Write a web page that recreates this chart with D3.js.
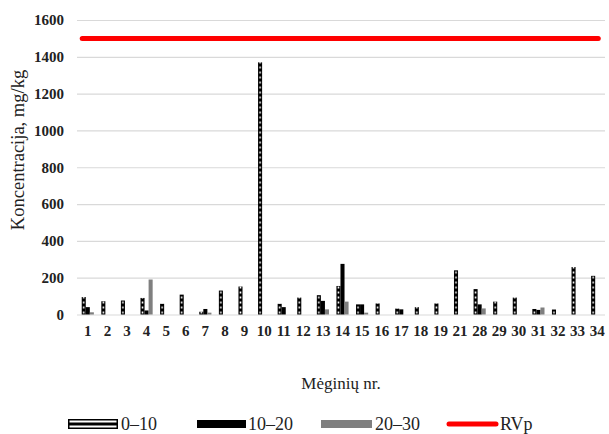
<!DOCTYPE html>
<html>
<head>
<meta charset="utf-8">
<script src="https://cdn.jsdelivr.net/npm/d3@7"></script>
<style>
  body { margin: 0; background: #fff; }
  svg text { font-family: "Liberation Serif", "Times New Roman", Times, "Tinos", "Nimbus Roman", "FreeSerif", "Noto Serif", "DejaVu Serif", serif; }
</style>
</head>
<body>
<div id="chart"></div>
<script>
// Mėginių numeriai (kategorijos)
const categories = ["1","2","3","4","5","6","7","8","9","10","11","12","13","14","15","16","17","18","19","21","28","29","30","31","32","33","34"];
const seriesNames = ["0–10", "10–20", "20–30"];
const depth0_10  = [95, 72, 76, 90, 58, 108, 15, 130, 152, 1370, 58, 92, 105, 155, 55, 60, 32, 40, 60, 240, 138, 70, 92, 30, 27, 258, 210];
const depth10_20 = [40, 0, 0, 22, 0, 0, 30, 0, 0, 0, 40, 0, 74, 275, 55, 0, 28, 0, 0, 0, 55, 0, 0, 25, 0, 0, 0];
const depth20_30 = [12, 0, 0, 190, 0, 0, 10, 0, 0, 0, 0, 0, 28, 70, 10, 0, 0, 0, 0, 0, 33, 0, 0, 38, 0, 0, 0];
const rvp = 1500;
const yTicks = [0, 200, 400, 600, 800, 1000, 1200, 1400, 1600];

const w = 609, h = 434;
const plotLeft = 78, plotRight = 607, plotTop = 20, plotBottom = 314.5;

const svg = d3.select("#chart").append("svg")
  .attr("width", w).attr("height", h);

// raštas 0–10 stulpeliams
const bw0 = 4.05;
const pat = svg.append("defs").append("pattern")
  .attr("id", "dots")
  .attr("patternUnits", "userSpaceOnUse")
  .attr("width", bw0).attr("height", 5);
pat.append("rect").attr("width", bw0).attr("height", 5).attr("fill", "#000");
pat.append("rect").attr("x", 1.3).attr("y", 1.5).attr("width", bw0 - 2.6).attr("height", 2).attr("fill", "#fff");

const x = d3.scaleBand().domain(categories).range([plotLeft, plotRight])
  .paddingInner(0.38).paddingOuter(0.19);
const xs = d3.scaleBand().domain(seriesNames).range([0, x.bandwidth()]);
const y = d3.scaleLinear().domain([0, 1600]).range([plotBottom, plotTop]);

// tinklelis
const grid = svg.append("g")
  .attr("transform", "translate(77,0)")
  .call(d3.axisLeft(y).tickValues(yTicks).tickSize(-(605 - 77)).tickFormat(""));
grid.select(".domain").remove();
grid.selectAll("line").attr("stroke", "#d9d9d9").attr("stroke-width", 1.2);

// y ašies žymės
const yAxis = svg.append("g")
  .attr("transform", "translate(64,0)")
  .call(d3.axisLeft(y).tickValues(yTicks).tickSize(0).tickPadding(0).tickFormat(d3.format("d")));
yAxis.select(".domain").remove();
yAxis.attr("font-family", null);
yAxis.selectAll("text")
  .attr("font-size", 15).attr("font-weight", "bold").attr("fill", "#222");

// x ašies žymės
const xAxis = svg.append("g")
  .attr("transform", "translate(0," + plotBottom + ")")
  .call(d3.axisBottom(x).tickSize(0).tickPadding(11));
xAxis.select(".domain").remove();
xAxis.attr("font-family", null);
xAxis.selectAll("text")
  .attr("font-size", 15).attr("font-weight", "bold").attr("fill", "#222");

// stulpeliai
const rows = categories.map((c, i) => ({ cat: c, vals: [depth0_10[i], depth10_20[i], depth20_30[i]] }));
const fills = ["url(#dots)", "#000", "#7f7f7f"];

const groups = svg.selectAll(".grp")
  .data(rows).enter().append("g")
  .attr("class", "grp");

groups.selectAll("g")
  .data(d => d.vals.map((v, k) => ({ cat: d.cat, k: k, v: v })))
  .enter().append("g")
  .attr("transform", d => "translate(" + (x(d.cat) + xs(seriesNames[d.k])) + ",0)")
  .filter(d => d.v > 0)
  .append("rect")
  .attr("x", 0)
  .attr("y", d => y(d.v))
  .attr("width", xs.bandwidth())
  .attr("height", d => y(0) - y(d.v))
  .attr("fill", d => fills[d.k]);

// RVp linija
svg.append("line")
  .attr("x1", x(categories[0]) + 0.5)
  .attr("x2", x(categories[categories.length - 1]) + x.bandwidth() - 5)
  .attr("y1", y(rvp)).attr("y2", y(rvp))
  .attr("stroke", "#ff0000").attr("stroke-width", 5).attr("stroke-linecap", "round");

// ašių pavadinimai
svg.append("text")
  .attr("transform", "translate(24,150) rotate(-90)")
  .attr("text-anchor", "middle")
  .attr("font-size", 18.5).attr("fill", "#222")
  .text("Koncentracija, mg/kg");

svg.append("text")
  .attr("x", 341).attr("y", 389)
  .attr("text-anchor", "middle")
  .attr("font-size", 17).attr("fill", "#222")
  .text("Mėginių nr.");

// legenda
const legY = 424;
const leg = svg.append("g");
const legLabels = ["0–10", "10–20", "20–30", "RVp"];

// 0–10 simbolis
leg.append("rect").attr("x", 68).attr("y", legY - 5).attr("width", 50).attr("height", 10).attr("fill", "#000");
leg.append("rect").attr("x", 69.5).attr("y", legY - 3.5).attr("width", 47).attr("height", 2).attr("fill", "#fff");
leg.append("rect").attr("x", 69.5).attr("y", legY + 1.5).attr("width", 47).attr("height", 2).attr("fill", "#fff");
// 10–20
leg.append("rect").attr("x", 197).attr("y", legY - 4).attr("width", 49).attr("height", 8).attr("fill", "#000");
// 20–30
leg.append("rect").attr("x", 321).attr("y", legY - 4).attr("width", 51).attr("height", 8).attr("fill", "#7f7f7f");
// RVp
leg.append("line").attr("x1", 449).attr("x2", 496).attr("y1", legY).attr("y2", legY)
  .attr("stroke", "#ff0000").attr("stroke-width", 5).attr("stroke-linecap", "round");

leg.selectAll("text.lt")
  .data(legLabels).enter().append("text")
  .attr("class", "lt")
  .attr("x", (d, i) => [121, 248, 375, 500][i])
  .attr("y", legY + 6)
  .attr("font-size", 18).attr("fill", "#222")
  .text(d => d);
</script>
</body>
</html>
